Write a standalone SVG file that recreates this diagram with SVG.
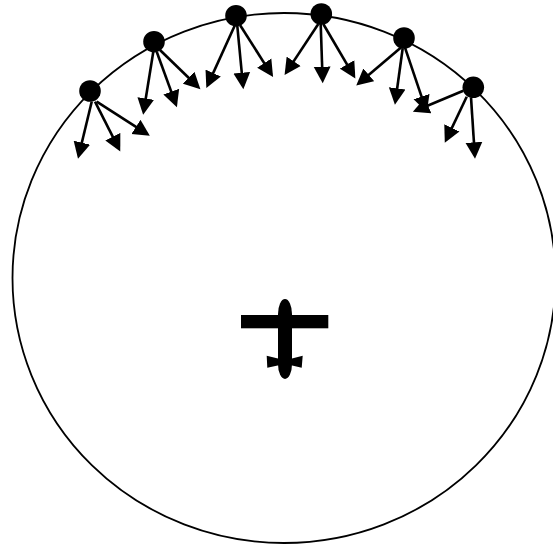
<svg xmlns="http://www.w3.org/2000/svg" width="553" height="544" viewBox="0 0 553 544">
<style>
.ring{fill:none;stroke:#000;stroke-width:1.8}
.c line{stroke:#000;stroke-width:2.6;fill:none;marker-end:url(#ah)}
.dot{fill:#000}
</style>
<defs>
<marker id="ah" markerUnits="userSpaceOnUse" markerWidth="18" markerHeight="18" refX="13" refY="9" orient="auto" viewBox="0 0 18 18">
<path d="M0 0.6L16.5 9L0 17.4z" fill="#000"/>
</marker>
</defs>
<rect width="553" height="544" fill="#fff"/>
<g id="ring"><ellipse class="ring" cx="284" cy="278" rx="271.5" ry="265"/></g>
<g id="connectors" class="c">
<line x1="91.7" y1="101.7" x2="78.8" y2="155.3"/>
<line x1="95" y1="101.7" x2="118.7" y2="148.3"/>
<line x1="96.7" y1="101.7" x2="146.9" y2="133.9"/>
<line x1="153.3" y1="51.7" x2="143.7" y2="111.3"/>
<line x1="156.7" y1="51.7" x2="175.7" y2="103.9"/>
<line x1="160" y1="50" x2="197.9" y2="86.8"/>
<line x1="235" y1="25" x2="207.8" y2="84.9"/>
<line x1="237.3" y1="26" x2="243" y2="85.7"/>
<line x1="240" y1="25" x2="271.2" y2="74.1"/>
<line x1="318.3" y1="24" x2="286.5" y2="72.1"/>
<line x1="320.7" y1="24" x2="322.6" y2="79.7"/>
<line x1="323.3" y1="24" x2="353.6" y2="75.6"/>
<line x1="400.7" y1="47.7" x2="358.9" y2="83.3"/>
<line x1="402.7" y1="48.3" x2="395.4" y2="101.3"/>
<line x1="405" y1="47.7" x2="425.7" y2="108.9"/>
<line x1="463.3" y1="90.7" x2="416.1" y2="110.5"/>
<line x1="466.7" y1="96.7" x2="446.3" y2="139.6"/>
<line x1="471" y1="97.3" x2="474.8" y2="155.3"/>
</g>
<g id="node1"><circle class="dot" cx="90" cy="91" r="10.8"/></g>
<g id="node2"><circle class="dot" cx="154" cy="41.7" r="10.8"/></g>
<g id="node3"><circle class="dot" cx="236" cy="15.7" r="10.8"/></g>
<g id="node4"><circle class="dot" cx="321.3" cy="14" r="10.8"/></g>
<g id="node5"><circle class="dot" cx="404" cy="38" r="10.8"/></g>
<g id="node6"><circle class="dot" cx="473.3" cy="87.3" r="10.8"/></g>
<g id="aircraft">
<rect class="dot" x="241" y="315" width="87.3" height="13.3"/>
<rect class="dot" x="278" y="299" width="14" height="80" rx="7" ry="15"/>
<path class="dot" d="M266.7 355.7L280 359V365L267.3 367.7zM302.7 355.7L290 359V365L301.7 367.7z"/>
</g>
</svg>
